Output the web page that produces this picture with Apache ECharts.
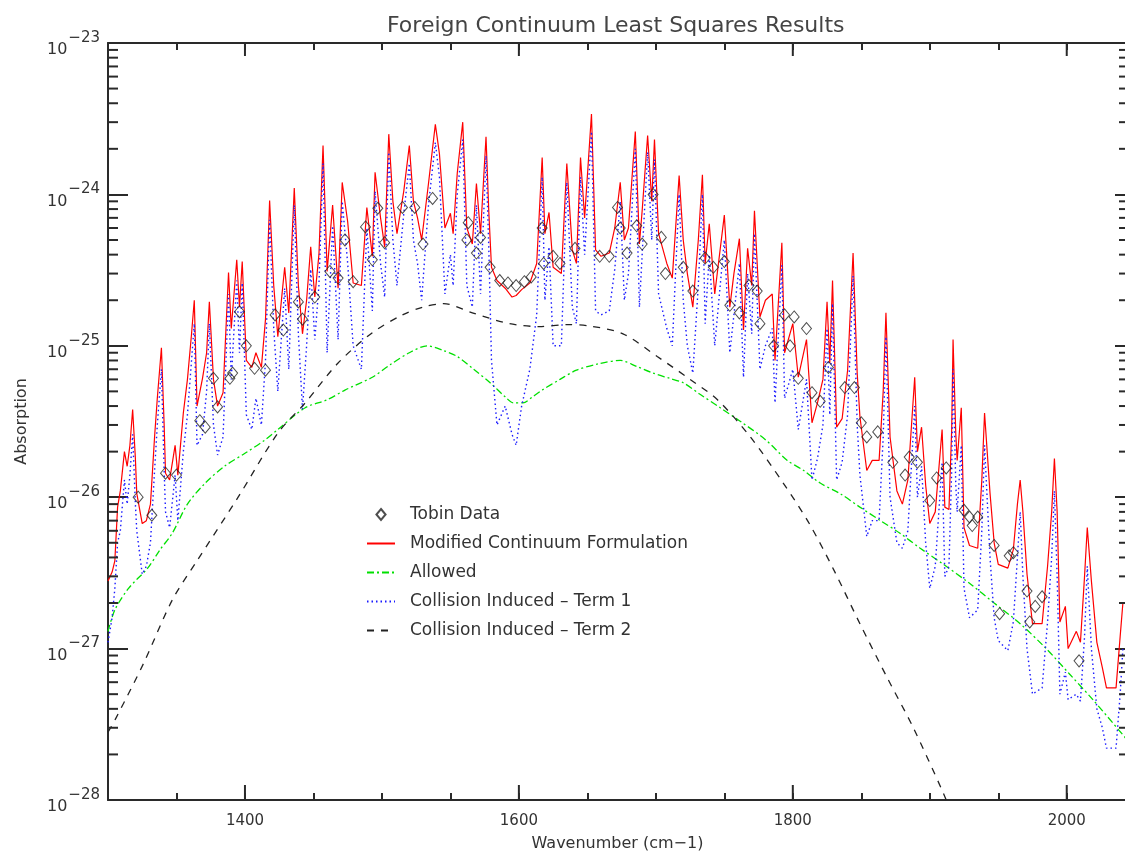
<!DOCTYPE html>
<html>
<head>
<meta charset="utf-8">
<script src="https://cdn.jsdelivr.net/npm/echarts@6/dist/echarts.min.js"></script>
<style>html,body{margin:0;background:#fff}#box{width:1125px;height:852px}</style>
</head>
<body>
<div id="box"></div>
<script>
// wavenumber grid of the two fitted spectra (cm-1)
var wavenumber = [
	1300,1303,1305,1307,1309,1312,1314,1316,1318,1320,
	1321,1325,1328,1331,1334,1336,1339,1341,1342,1345,
	1349,1351,1355,1358,1361,1363,1365,1369,1372,1374,
	1377,1380,1384,1388,1390,1394,1396,1398,1401,1405,
	1408,1412,1415,1418,1421,1424,1429,1432,1436,1439,
	1442,1445,1448,1451,1454,1457,1460,1464,1468,1471,
	1475,1479,1485,1489,1493,1495,1499,1502,1505,1508,
	1511,1516,1520,1523,1526,1529,1534,1539,1542,1546,
	1550,1552,1555,1559,1562,1566,1569,1572,1576,1578,
	1580,1584,1590,1595,1598,1602,1608,1613,1617,1619,
	1622,1625,1631,1635,1639,1642,1645,1648,1653,1656,
	1660,1666,1670,1674,1677,1680,1685,1688,1690,1694,
	1697,1699,1702,1708,1712,1717,1720,1723,1727,1731,
	1734,1736,1739,1743,1750,1754,1757,1761,1764,1767,
	1770,1772,1776,1780,1785,1787,1792,1794,1800,1804,
	1810,1814,1818,1822,1825,1827,1829,1832,1836,1840,
	1844,1847,1849,1854,1858,1863,1866,1868,1871,1876,
	1880,1884,1889,1891,1894,1897,1900,1904,1909,1911,
	1914,1916,1917,1919,1920,1923,1925,1929,1935,1938,
	1940,1944,1947,1950,1957,1961,1964,1966,1968,1971,
	1975,1982,1986,1989,1991,1993,1995,1999,2001,2007,
	2010,2013,2015,2018,2022,2026,2029,2036,2039,2041
];
// Modified Continuum Formulation (red)
var modified = [
	2.8e-27,3.2e-27,3.8e-27,8.6e-27,1.1e-26,2.0e-26,1.6e-26,2.2e-26,3.8e-26,1.8e-26,
	1.06e-26,6.7e-27,7e-27,9e-27,2.5e-26,4.5e-26,9.7e-26,3e-26,1.44e-26,1.3e-26,
	2.2e-26,1.4e-26,3.6e-26,6e-26,1.2e-25,2e-25,4e-26,6.1e-26,9e-26,1.95e-25,
	6e-26,4e-26,4.9e-26,3.05e-25,1.3e-25,3.7e-25,1.8e-25,3.6e-25,8e-26,7.2e-26,
	9e-26,7.2e-26,1.5e-25,9.1e-25,2.5e-25,1.15e-25,3.3e-25,1.65e-25,1.1e-24,2.5e-25,
	1.2e-25,2e-25,4.5e-25,2.1e-25,4e-25,2.1e-24,3.1e-25,8.5e-25,2.4e-25,1.2e-24,
	6.6e-25,2.6e-25,2.5e-25,8.2e-25,3.9e-25,1.4e-24,7e-25,4.5e-25,2.5e-24,9e-25,
	5.5e-25,1.06e-24,2.1e-24,9e-25,7e-25,5e-25,1.18e-24,2.9e-24,1.85e-24,6e-25,
	7.5e-25,5.5e-25,1.38e-24,3e-24,6e-25,4.7e-25,1.18e-24,5.5e-25,2.4e-24,7.8e-25,
	3.3e-25,2.7e-25,2.4e-25,2.1e-25,2.15e-25,2.35e-25,2.6e-25,3.5e-25,1.75e-24,5.5e-25,
	7.6e-25,3.3e-25,3e-25,1.6e-24,4.3e-25,3.5e-25,1.75e-24,7e-25,3.4e-24,4.3e-25,
	3.9e-25,4.1e-25,6e-25,1.2e-24,5e-25,6e-25,2.6e-24,4.7e-25,7.8e-25,2.45e-24,
	9e-25,2.3e-24,5.5e-25,3.5e-25,2.8e-25,1.33e-24,5e-25,3e-25,1.8e-25,5e-25,
	1.35e-24,3.5e-25,6.4e-25,2.2e-25,7.3e-25,1.8e-25,3e-25,5.1e-25,1.27e-25,4.4e-25,
	2.5e-25,7.8e-25,1.55e-25,2e-25,2.2e-25,8e-26,4.8e-25,9e-26,1.4e-25,6.2e-26,
	1.1e-25,3.1e-26,4.2e-26,6e-26,1.95e-25,7.7e-26,2.7e-25,2.9e-26,3.3e-26,6.9e-26,
	4.1e-25,6.6e-26,3.4e-26,1.5e-26,1.75e-26,1.75e-26,5e-26,1.65e-25,2.5e-26,1.1e-26,
	9e-27,1.3e-26,6.2e-26,2e-26,2.9e-26,1.2e-26,6.7e-27,8e-27,2.8e-26,8.6e-27,
	8.3e-27,2.8e-26,1.1e-25,2.6e-26,1.75e-26,3.9e-26,6.3e-27,4.8e-27,4.6e-27,1.3e-26,
	3.6e-26,1.06e-26,5e-27,3.6e-27,3.4e-27,4.5e-27,9e-27,1.3e-26,8e-27,3.1e-27,
	1.46e-27,1.46e-27,3.5e-27,8e-27,1.8e-26,8e-27,1.5e-27,1.9e-27,1e-27,1.3e-27,
	1.1e-27,3e-27,6.3e-27,2.8e-27,1.1e-27,7.5e-28,5.5e-28,5.5e-28,1.2e-27,2e-27
];
// Collision Induced - Term 1 (blue dotted)
var term1 = [
	1.1e-27,1.6e-27,2.5e-27,5e-27,6e-27,1.3e-26,9e-27,1.4e-26,2.6e-26,9e-27,
	6e-27,3.1e-27,3.5e-27,5e-27,1.5e-26,3e-26,7e-26,1.5e-26,8e-27,6.3e-27,
	1.4e-26,7e-27,2e-26,3.5e-26,8e-26,1.4e-25,2.2e-26,2.6e-26,5e-26,1.4e-25,
	3e-26,1.9e-26,2.5e-26,2.2e-25,6e-26,2.7e-25,9e-26,2.6e-25,3.5e-26,2.8e-26,
	4.5e-26,3e-26,8e-26,6.8e-25,1.3e-25,5e-26,2.4e-25,7e-26,8.5e-25,1.2e-25,
	3.8e-26,1e-25,3.2e-25,1.1e-25,2.5e-25,1.6e-24,9e-26,6.2e-25,1.1e-25,9e-25,
	3.5e-25,1e-25,7e-26,6e-25,1.7e-25,1.05e-24,3.5e-25,2.1e-25,1.9e-24,5e-25,
	2.5e-25,7.5e-25,1.6e-24,5e-25,3.5e-25,2e-25,8.5e-25,2.2e-24,1.3e-24,2.2e-25,
	4e-25,2.5e-25,1e-24,2.3e-24,2.5e-25,1.8e-25,8.5e-25,2.2e-25,1.8e-24,4.5e-25,
	8e-26,3e-26,4e-26,2.6e-26,2.2e-26,4e-26,7e-26,1.6e-25,1.3e-24,2e-25,
	4.5e-25,1e-25,1e-25,1.2e-24,1.8e-25,1.4e-25,1.3e-24,4e-25,2.6e-24,1.7e-25,
	1.6e-25,1.7e-25,3.2e-25,9e-25,2e-25,3e-25,2e-24,1.8e-25,4e-25,1.9e-24,
	5e-25,1.7e-24,2.2e-25,1.3e-25,1e-25,1e-24,2e-25,1e-25,6.6e-26,2.5e-25,
	1e-24,1.4e-25,4e-25,1e-25,5e-25,9e-26,1.6e-25,3.5e-25,6.2e-26,3e-25,
	1.2e-25,5.5e-25,7e-26,1e-25,1.3e-25,4.2e-26,3.4e-25,4.5e-26,7e-26,2.8e-26,
	6e-26,1.3e-26,1.8e-26,3e-26,1.3e-25,3.5e-26,1.9e-25,1.3e-26,1.7e-26,3.5e-26,
	2.9e-25,3e-26,1.4e-26,5.5e-27,7e-27,7e-27,2.5e-26,1.15e-25,1e-26,5e-27,
	4.6e-27,6e-27,4e-26,1e-26,1.6e-26,5e-27,2.5e-27,3.5e-27,1.7e-26,3e-27,
	3.5e-27,1.5e-26,7e-26,1.2e-26,8e-27,2.2e-26,2.5e-27,1.6e-27,1.8e-27,6e-27,
	2.2e-26,4e-27,1.6e-27,1.13e-27,9.7e-28,1.5e-27,4e-27,8e-27,3e-27,1e-27,
	5e-28,5.5e-28,1.5e-27,4e-27,1.1e-26,3e-27,5e-28,7e-28,4.6e-28,5e-28,
	4.5e-28,1.2e-27,3.5e-27,1e-27,4e-28,3e-28,2.2e-28,2.2e-28,5e-28,1e-27
];
// Allowed (green dash-dot)
var allowedWn = [1300,1305,1315,1329,1338,1347,1358,1371,1385,1400,1415,1424,1444,1460,1473,1493,1506,1520,1533,1545,
	1555,1567,1579,1590,1596,1603,1610,1617,1630,1642,1658,1674,1686,1698,1710,1720,1732,1747,1761,1780,
	1796,1808,1820,1835,1849,1864,1878,1893,1910,1929,1947,1966,1985,2002,2020,2044];
var allowed = [1.3e-27,1.8e-27,2.5e-27,3.4e-27,4.5e-27,5.8e-27,9e-27,1.24e-26,1.6e-26,1.95e-26,2.4e-26,2.8e-26,3.9e-26,4.4e-26,5.1e-26,6.2e-26,7.5e-26,9e-26,1e-25,9.3e-26,
	8.5e-26,7e-26,5.7e-26,4.6e-26,4.2e-26,4.2e-26,4.6e-26,5.1e-26,6e-26,6.9e-26,7.6e-26,8e-26,7.3e-26,6.6e-26,6.1e-26,5.7e-26,4.8e-26,3.9e-26,3.2e-26,2.4e-26,
	1.75e-26,1.5e-26,1.24e-26,1.05e-26,8.6e-27,7e-27,5.8e-27,4.6e-27,3.6e-27,2.7e-27,2e-27,1.46e-27,1e-27,6.8e-28,4.5e-28,2.5e-28];
// Collision Induced - Term 2 (black dashed)
var term2Wn = [1300,1306,1326,1347,1365,1395,1424,1444,1468,1493,1515,1530,1545,1566,1593,1615,1635,1652,1676,1701,
	1725,1745,1769,1793,1812,1830,1849,1869,1888,1909,1912];
var term2 = [2.8e-28,3.5e-28,8e-28,2.1e-27,3.8e-27,1e-26,2.65e-26,4.2e-26,7.7e-26,1.22e-25,1.6e-25,1.8e-25,1.9e-25,1.65e-25,1.4e-25,1.34e-25,1.38e-25,1.35e-25,1.2e-25,8.5e-26,
	6e-26,4.4e-26,2.5e-26,1.24e-26,6.7e-27,3.3e-27,1.46e-27,6.4e-28,3e-28,1.16e-28,1e-28];
// Tobin Data (diamonds)
var tobinWn = [1322,1332,1342,1350,1367,1371,1377,1380,1389,1391,1396,1401,1407,1415,1422,1428,1439,1442,1451,1462,
	1468,1473,1479,1488,1493,1497,1502,1515,1524,1530,1537,1562,1563,1569,1572,1579,1586,1592,1598,1604,
	1609,1617,1618,1625,1630,1641,1659,1666,1672,1674,1679,1686,1690,1698,1704,1707,1720,1727,1736,1742,
	1750,1754,1761,1768,1774,1776,1786,1794,1798,1801,1804,1810,1814,1820,1826,1838,1845,1850,1854,1862,
	1873,1882,1885,1891,1900,1905,1912,1925,1929,1931,1935,1947,1951,1958,1961,1971,1973,1977,1982,2009];
var tobin = [1e-26,7.6e-27,1.44e-26,1.4e-26,3.2e-26,2.9e-26,6.1e-26,3.95e-26,6.1e-26,6.6e-26,1.68e-25,1e-25,7.1e-26,6.9e-26,1.6e-25,1.27e-25,1.95e-25,1.5e-25,2.1e-25,3.1e-25,
	2.8e-25,5e-25,2.65e-25,6.1e-25,3.7e-25,8.1e-25,4.8e-25,8.2e-25,8.2e-25,4.7e-25,9.4e-25,5e-25,6.5e-25,4.1e-25,5.2e-25,3.3e-25,2.7e-25,2.6e-25,2.5e-25,2.65e-25,
	2.85e-25,6e-25,3.5e-25,3.9e-25,3.5e-25,4.4e-25,3.9e-25,3.9e-25,8.2e-25,6e-25,4.1e-25,6.2e-25,4.7e-25,1e-24,5.2e-25,3e-25,3.3e-25,2.3e-25,3.8e-25,3.3e-25,
	3.6e-25,1.85e-25,1.65e-25,2.5e-25,2.3e-25,1.4e-25,1e-25,1.6e-25,1e-25,1.55e-25,6.1e-26,1.3e-25,4.9e-26,4.3e-26,7.2e-26,5.3e-26,5.3e-26,3.1e-26,2.5e-26,2.7e-26,
	1.7e-26,1.4e-26,1.84e-26,1.7e-26,9.5e-27,1.34e-26,1.56e-26,8.2e-27,7.4e-27,6.5e-27,7.4e-27,4.8e-27,1.7e-27,4.1e-27,4.3e-27,2.4e-27,1.5e-27,1.9e-27,2.2e-27,8.3e-28];

var xLabelTicks = [1400, 1600, 1800, 2000];
// ECharts' log scale gives up below ~1e-20, so the y axis counts in units of 1e-28
var unitExp = -28;
var unit = 1e-28;

function pairs(xs, ys){
	var out = [];
	for(var i = 0; i < xs.length; i++){
		out.push([xs[i], ys[i] / unit]);
	}
	return out;
}

var names = ['Tobin Data', 'Modified Continuum Formulation', 'Allowed',
	'Collision Induced \u2013 Term 1', 'Collision Induced \u2013 Term 2'];
var ink = '#2a2a2a';
var font = 'DejaVu Sans';
var clear = 'rgba(0,0,0,0)';

var mychart = echarts.init(document.getElementById('box'));
var option = {
	animation: false,
	backgroundColor: '#fff',
	title: {
		text: 'Foreign Continuum Least Squares Results',
		left: 382, top: 10,
		textStyle: {fontFamily: font, fontSize: 22, fontWeight: 'normal', color: '#444'}
	},
	legend: {
		data: [{name: names[0], icon: 'path://M5,0 L10,6 L5,12 L0,6 Z'}, names[1], names[2], names[3], names[4]],
		orient: 'vertical',
		left: 361, top: 501,
		itemWidth: 28, itemHeight: 11, itemGap: 12,
		textStyle: {fontFamily: font, fontSize: 17, color: '#333', padding: [0, 0, 0, 10]}
	},
	grid: {left: 108, right: -2, top: 43, bottom: 52, containLabel: false, outerBoundsMode: 'none'},
	xAxis: [{
		type: 'value', min: 1300, max: 2044, interval: 50,
		name: 'Wavenumber (cm\u22121)', nameLocation: 'middle', nameGap: 36,
		nameTextStyle: {fontFamily: font, fontSize: 16, color: '#333'},
		axisLine: {lineStyle: {color: ink, width: 2}},
		axisTick: {inside: true, length: 7, lineStyle: {color: ink, width: 2}},
		axisLabel: {
			margin: 14, fontFamily: font, fontSize: 15, color: '#333',
			formatter: function(v){ return v % 200 === 0 ? String(v) : ''; }
		},
		splitLine: {show: false}
	}, {
		type: 'value', position: 'top', min: 1300, max: 2044, interval: 50,
		axisLine: {lineStyle: {color: ink, width: 2}},
		axisTick: {inside: true, length: 7, lineStyle: {color: ink, width: 2}},
		axisLabel: {show: false},
		splitLine: {show: false}
	}],
	yAxis: [{
		type: 'log', logBase: 10, min: 1, max: 1e5,
		name: 'Absorption', nameLocation: 'middle', nameGap: 78,
		nameTextStyle: {fontFamily: font, fontSize: 16, color: '#333'},
		axisLine: {lineStyle: {color: ink, width: 2}},
		axisTick: {inside: true, length: 20, lineStyle: {color: ink, width: 2}},
		axisLabel: {
			margin: 8,
			formatter: function(v){
				var e = Math.round(Math.log(v) / Math.LN10) + unitExp;
				return '{b|10}{e|\u2212' + (-e) + '}';
			},
			rich: {
				b: {fontFamily: font, fontSize: 16, color: '#333', padding: [14, 0, 0, 0]},
				e: {fontFamily: font, fontSize: 15, color: '#333', padding: [0, 0, 10, 1]}
			}
		},
		splitLine: {show: false}
	}, {
		type: 'log', logBase: 10, min: 1, max: 1e5, position: 'right',
		axisLine: {lineStyle: {color: ink, width: 2}},
		axisTick: {inside: true, length: 12, lineStyle: {color: ink, width: 2}},
		axisLabel: {show: false},
		splitLine: {show: false}
	}],
	series: [{
		name: names[1], type: 'line', symbol: 'none', z: 2,
		lineStyle: {color: '#ff0000', width: 1.2},
		itemStyle: {color: clear},
		data: pairs(wavenumber, modified)
	}, {
		name: names[2], type: 'line', symbol: 'none', smooth: 0.3, z: 3,
		lineStyle: {color: '#00e000', width: 1.3, type: [7, 3, 2, 3]},
		itemStyle: {color: clear},
		data: pairs(allowedWn, allowed)
	}, {
		name: names[3], type: 'line', symbol: 'none', z: 4,
		lineStyle: {color: '#1a1aff', width: 1.4, type: [1.5, 3]},
		itemStyle: {color: clear},
		data: pairs(wavenumber, term1)
	}, {
		name: names[4], type: 'line', symbol: 'none', smooth: 0.3, z: 5,
		lineStyle: {color: '#222', width: 1.3, type: [7, 7]},
		itemStyle: {color: clear},
		data: pairs(term2Wn, term2)
	}, {
		name: names[0], type: 'scatter', symbol: 'diamond', symbolSize: [10, 12], z: 6,
		itemStyle: {color: clear, borderColor: '#222', borderWidth: 1},
		data: pairs(tobinWn, tobin)
	}]
};
mychart.setOption(option);

// long ticks at the labelled wavenumbers and log minor ticks, placed through the axes
var graphics = [];
function tick(x1, y1, x2, y2){
	graphics.push({type: 'line', silent: true, z: 10,
		shape: {x1: x1, y1: y1, x2: x2, y2: y2},
		style: {stroke: ink, lineWidth: 2}});
}
var lo = mychart.convertToPixel({gridIndex: 0}, [1300, 1]);
var hi = mychart.convertToPixel({gridIndex: 0}, [2044, 1e5]);
for(var i = 0; i < xLabelTicks.length; i++){
	var px = mychart.convertToPixel({xAxisIndex: 0}, xLabelTicks[i]);
	tick(px, lo[1], px, lo[1] - 15);
	tick(px, hi[1], px, hi[1] + 13);
}
for(var d = 1; d < 1e5; d *= 10){
	for(var m = 2; m <= 9; m++){
		var py = mychart.convertToPixel({yAxisIndex: 0}, m * d);
		tick(lo[0], py, lo[0] + 10, py);
		tick(hi[0], py, hi[0] - 8, py);
	}
}
mychart.setOption({graphic: graphics});
</script>
</body>
</html>
